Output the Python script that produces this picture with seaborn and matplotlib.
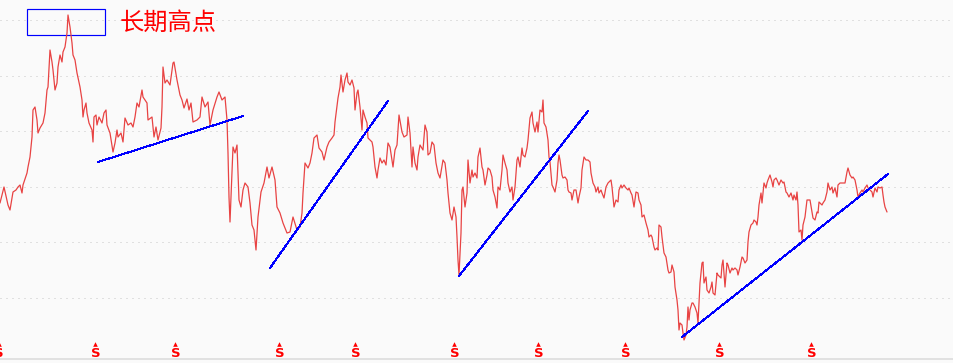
import matplotlib
matplotlib.use("Agg")
import matplotlib.pyplot as plt
from matplotlib.patches import Rectangle
import numpy as np
import pandas as pd
import seaborn as sns

# daily closes (bar index, level)
days = [
    0, 4, 8, 10, 13, 16, 18, 20, 22, 23, 27, 28, 30, 32, 33, 35, 37, 38, 40, 43, 45, 47, 48, 50, 52,
    53, 55, 57, 58, 60, 62, 63, 65, 67, 68, 70, 72, 73, 75, 77, 80, 82, 83, 84, 86, 87, 89, 92, 93, 94,
    96, 97, 99, 102, 104, 106, 107, 110, 113, 115, 117, 118, 121, 123, 125, 128, 131, 133, 135, 137,
    139, 142, 143, 147, 148, 152, 154, 156, 158, 161, 162, 163, 165, 167, 170, 173, 174,
    177, 180, 182, 184, 187, 189, 191, 193, 197, 200, 202, 205, 208, 210, 213, 217, 219, 222, 225, 227,
    228, 229, 230, 232, 233, 235, 237, 238, 239, 241, 243, 245, 248, 250, 252, 254, 256, 258, 261, 264,
    267, 269, 272, 275, 277, 280, 283, 287, 290, 293, 297, 300, 302, 303, 305, 308, 310, 312, 314, 317,
    319, 322, 324, 327, 329, 332, 334, 335, 338, 340, 341, 343, 345, 347, 348, 350,
    352, 354, 355, 357, 358, 360, 362, 363, 365, 367, 368, 372, 373, 375, 377, 378, 380, 382, 384, 386,
    388, 390, 393, 395, 397, 399, 402, 404, 407, 408, 410, 412, 413, 415, 417, 418, 420, 423, 425, 427,
    428, 430, 432, 434, 436, 438, 440, 443, 445, 447, 448, 450, 452, 454, 456, 457, 458, 459, 461, 462,
    463, 465, 467, 468, 470, 472, 473, 475, 477, 478, 480, 482, 483, 485, 487, 488, 490, 492, 493, 495,
    497, 498, 500, 502, 503, 505, 507, 508, 510, 512, 513, 515, 517, 518, 520, 522, 523, 525,
    527, 528, 530, 532, 533, 535, 537, 538, 540, 542, 543, 544, 546, 548, 549, 550, 552, 553, 555, 557,
    558, 559, 560, 562, 563, 565, 567, 568, 569, 571, 572, 574, 576, 578, 579, 581, 582, 584, 586, 588,
    590, 591, 593, 595, 596, 598, 599, 601, 602, 604, 606, 608, 609, 611, 612, 614, 616, 618, 619, 621,
    622, 624, 626, 628, 629, 631, 632, 634, 636, 638, 639, 641, 642, 644, 646, 648, 649, 651, 652, 654,
    655, 657, 658, 659, 661, 662, 664, 666, 668, 669, 671, 672, 674, 675, 677, 678, 679, 680, 682, 683,
    684, 686, 687, 688, 689, 690, 692, 693, 695, 697, 698, 699,
    700, 702, 703, 704, 706, 707, 709, 711, 712, 713, 715, 717, 718, 721, 722, 723, 725, 727, 728, 730,
    732, 733, 735, 737, 738, 740, 742, 743, 745, 747, 748, 749, 751, 753, 754, 756, 757, 758, 759, 761,
    762, 763, 764, 766, 767, 768, 770, 772, 773, 774, 776, 777, 779, 781, 783, 784, 786, 787, 789, 791,
    793, 794, 796, 797, 798, 799, 801, 802, 803, 805, 806, 807, 810, 812, 813, 815, 817, 818, 819, 822,
    823, 825, 827, 828, 830, 832, 833, 835, 837, 838, 840, 843, 845, 847, 848, 850, 852, 853, 855, 857,
    858, 860, 862, 863, 865, 867, 868, 870, 872, 873, 875, 877, 878, 880, 882, 883, 884, 885, 887,
]
close = [
    3353, 3497, 3335, 3290, 3452, 3470, 3497, 3515, 3443, 3515, 3623, 3677, 3767, 3947, 4190, 4217, 4100, 3983, 4028, 4073, 4163, 4370, 4397, 4730, 4622,
    4550, 4370, 4433, 4577, 4685, 4622, 4712, 4757, 4883, 5045, 4937, 4793, 4685, 4640, 4523, 4397, 4280, 4127, 4190, 4253, 4163, 4073, 4010, 3902, 4127,
    4145, 4055, 4127, 4073, 4163, 4190, 4055, 3983, 3812, 3893, 4010, 3947, 3983, 3902, 4118, 4055, 4073, 4037, 4127, 4253,
    4217, 4370, 4307, 4253, 4100, 4127, 3947, 4037, 3920, 4028, 4217, 4577, 4433, 4460, 4415, 4613, 4622,
    4460, 4325, 4280, 4208, 4289, 4190, 4253, 4082, 4100, 4127, 4307, 4217, 4262, 4055, 4190, 4307, 4352, 4280, 4307, 4100,
    3803, 3407, 3182, 3623, 3857, 3803, 3875, 3623, 3380, 3317, 3470, 3533, 3497, 3353, 3155, 3110, 2930, 3227, 3452, 3533,
    3677, 3578, 3677, 3560, 3317, 3263, 3173, 3083, 3092, 3227, 3110, 3137, 3263, 3443, 3713, 3668, 3713, 3803, 3938, 3965,
    3848, 3812, 3740, 3857, 3902, 3938, 3965, 4082, 4298, 4397, 4505, 4352, 4460, 4523, 4442, 4415,
    4460, 4388, 4190, 4343, 4370, 4217, 4010, 4190, 4127, 4073, 3938, 3902, 3857, 3677, 3578, 3650, 3758, 3713, 3740, 3695,
    3893, 3857, 3677, 3830, 3875, 4145, 3992, 3947, 3965, 4127, 3983, 3677, 3857, 3713, 3650, 3767, 3875, 3830, 4055, 3992,
    3785, 3803, 3902, 3875, 3713, 3623, 3578, 3740, 3713, 3560, 3443, 3263, 3200, 3317, 3227, 3047, 2840, 2705, 3083, 3470,
    3497, 3317, 3443, 3740, 3533, 3650, 3587, 3623, 3578, 3767, 3848, 3677, 3650, 3515, 3605, 3668, 3650, 3587, 3470, 3407,
    3308, 3497, 3470, 3650, 3785, 3713, 3650, 3533, 3452, 3497, 3380, 3497, 3740, 3767, 3677, 3848, 3785, 3767,
    3848, 3920, 4118, 4172, 4073, 3992, 4082, 3992, 4190, 4172, 4280, 4073, 4037, 3920, 3767, 3722, 3515, 3497, 3452, 3560,
    3713, 3785, 3740, 3605, 3578, 3587, 3560, 3470, 3452, 3443, 3380, 3470, 3470, 3353, 3407, 3488, 3650, 3767, 3740, 3740,
    3722, 3623, 3533, 3497, 3452, 3497, 3443, 3470, 3443, 3398, 3497, 3533, 3542, 3560, 3497, 3317, 3380, 3362, 3470, 3515,
    3488, 3515, 3488, 3470, 3488, 3443, 3425, 3317, 3452, 3443, 3380, 3335, 3227, 3245, 3173, 3110, 3047, 3065, 3047, 2957,
    2930, 2948, 2930, 3155, 3137, 3047, 2903, 2867, 2750, 2723, 2732, 2795, 2732, 2597, 2480, 2390, 2210, 2273, 2255, 2183,
    2120, 2165, 2237, 2417, 2300, 2390, 2453, 2453, 2417, 2363, 2273, 2453,
    2633, 2813, 2822, 2633, 2687, 2570, 2543, 2597, 2642, 2543, 2525, 2723, 2705, 2678, 2795, 2840, 2597, 2813, 2795, 2723,
    2768, 2750, 2768, 2750, 2705, 2777, 2867, 2858, 2813, 2840, 3002, 3092, 3155, 3173, 3200, 3182, 3155, 3227, 3335, 3443,
    3353, 3443, 3533, 3488, 3533, 3560, 3605, 3542, 3497, 3560, 3578, 3560, 3515, 3560, 3533, 3542, 3452, 3443, 3407, 3443,
    3380, 3425, 3380, 3452, 3335, 3092, 3110, 3020, 3155, 3227, 3308, 3380, 3380, 3272, 3218, 3200, 3272, 3263, 3362, 3335,
    3353, 3380, 3452, 3533, 3470, 3497, 3443, 3488, 3407, 3515, 3533, 3533, 3533, 3632, 3668, 3605, 3578, 3587, 3560, 3470,
    3407, 3443, 3470, 3452, 3488, 3515, 3488, 3470, 3452, 3407, 3488, 3452, 3497, 3488, 3497, 3425, 3362, 3317, 3272,
]

# hand-drawn trend lines: (start bar, start level, end bar, end level)
trend_lines = [
    (98, 3722, 243, 4136),
    (270, 2768, 388, 4271),
    (459, 2696, 588, 4181),
    (682, 2147, 888, 3614),
]

# buy signal bars
signal_days = [-2, 95, 175, 279, 355, 454, 538, 625, 719, 811]

# long-term high box
high_box = (27, 4865, 105, 5099)
high_label = "长期高点"

grid_levels = [2500, 3000, 3500, 4000, 4500, 5000]

sns.set_style("white")
plt.rcParams["font.family"] = ["Noto Sans CJK SC", "DejaVu Sans"]

fig = plt.figure(figsize=(9.54, 3.63), dpi=100)
fig.patch.set_facecolor("#fafafa")
ax = fig.add_axes([0, 0, 1, 1])
ax.set_facecolor("#fafafa")

sns.lineplot(x=days, y=close, ax=ax, color="#e84343", lw=0.9,
             sort=False, estimator=None)

tl = pd.DataFrame(
    [(i, d0, v0) for i, (d0, v0, d1, v1) in enumerate(trend_lines)]
    + [(i, d1, v1) for i, (d0, v0, d1, v1) in enumerate(trend_lines)],
    columns=["seg", "day", "level"],
)
sns.lineplot(data=tl, x="day", y="level", units="seg", estimator=None,
             color="#0000ff", lw=0.72, ax=ax, antialiased=False)

ax.add_patch(Rectangle((high_box[0], high_box[1]), high_box[2] - high_box[0],
                       high_box[3] - high_box[1], fill=False,
                       edgecolor="#0000ff", lw=0.85))
ax.text(120, 4973, high_label, color="#ff0000", fontsize=17.5,
        ha="left", va="center")

for d in signal_days:
    ax.text(d + 0.5, 1998, "S", color="#ff0000", fontsize=9.5, fontweight="bold",
            ha="center", va="center", family="DejaVu Sans")
ax.scatter(np.array(signal_days) + 0.5, [2085] * len(signal_days), marker="^",
           s=11, color="#ff0000", linewidths=0)

ax.axhline(1949, color="#dcdcdc", lw=1.2)

ax.set_xlim(0, 954)
ax.set_ylim(1913, 5180)
ax.set_yticks(grid_levels)
ax.set_xticks([])
ax.grid(axis="y", color="#c8c8c8", lw=0.72, linestyle=(0, (1, 5)))
ax.tick_params(length=0, labelleft=False, labelbottom=False)
ax.set_xlabel("")
ax.set_ylabel("")
for s in ax.spines.values():
    s.set_visible(False)

fig.savefig("out.png", dpi=100, facecolor=fig.get_facecolor())
